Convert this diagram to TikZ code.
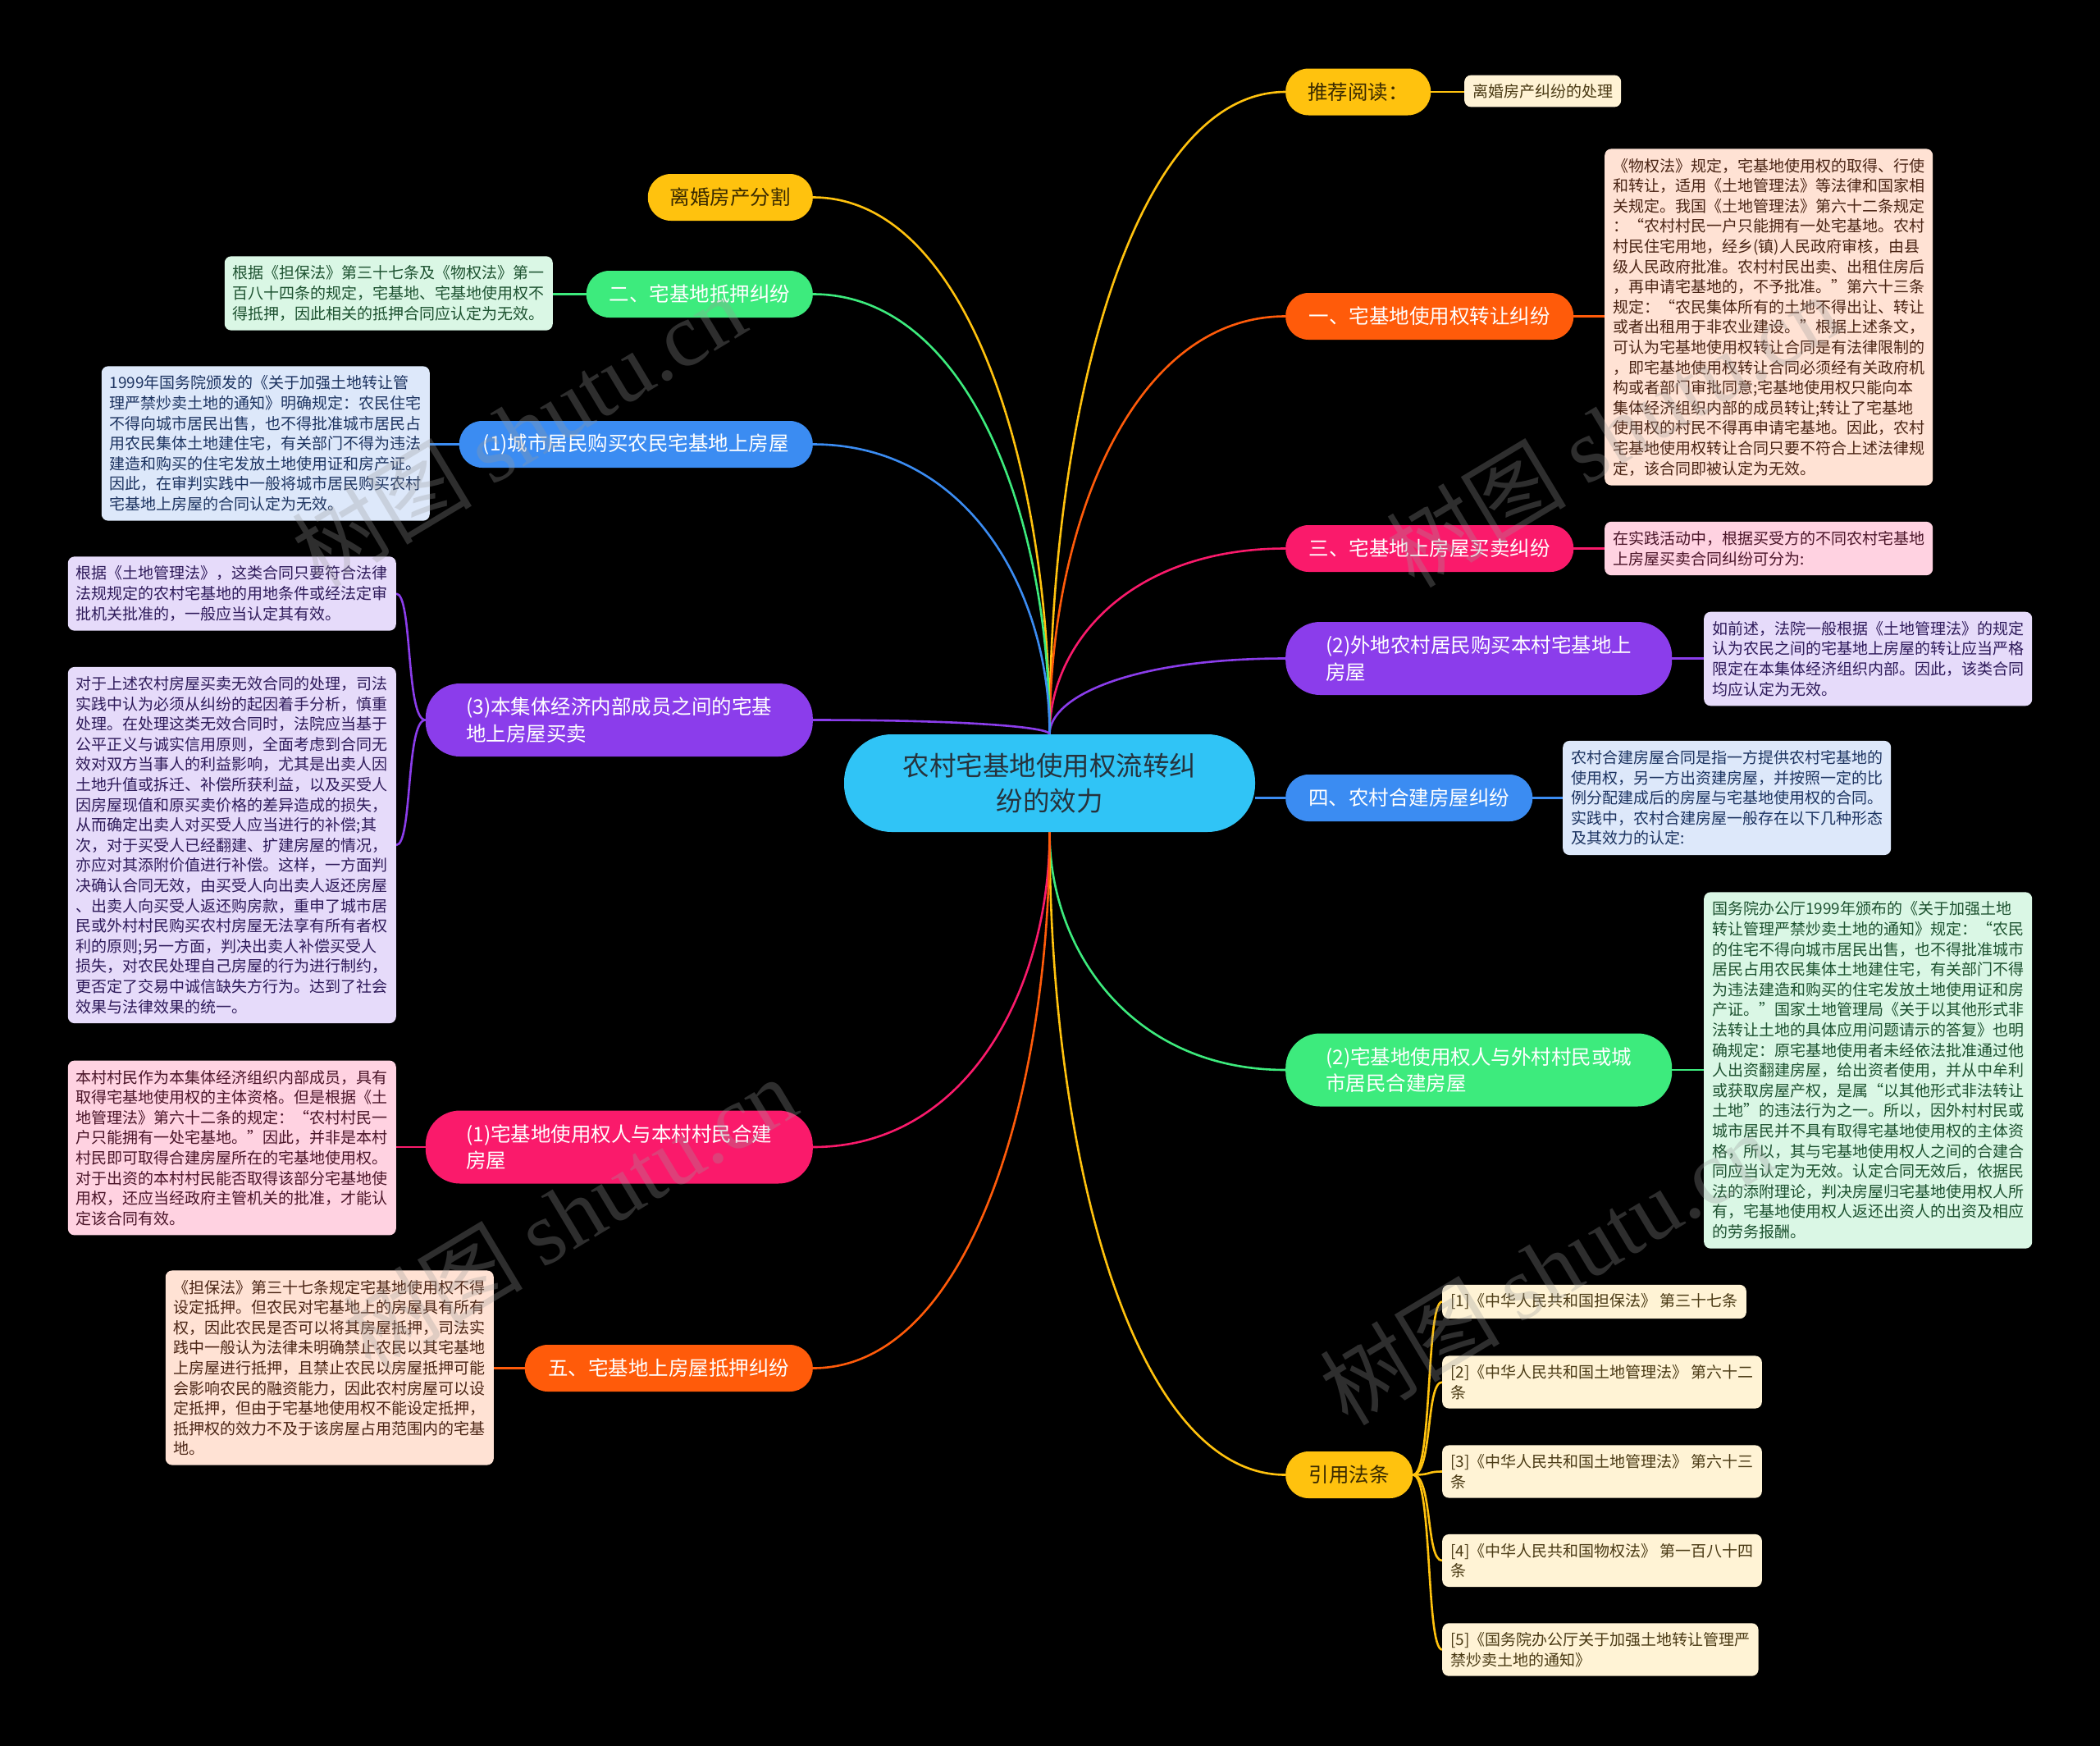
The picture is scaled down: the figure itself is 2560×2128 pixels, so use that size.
\documentclass[tikz,border=0pt]{standalone}
\usepackage{fontspec}
\setmainfont{Noto Sans CJK SC}
\newfontfamily\wmlatin{Liberation Serif}
\usetikzlibrary{calc}
\pgfdeclarelayer{bg}
\pgfdeclarelayer{conns}
\pgfsetlayers{bg,conns,main}

\definecolor{cgold}{HTML}{FFC20E}
\definecolor{corange}{HTML}{FF5B0A}
\definecolor{ccrimson}{HTML}{FA1A6B}
\definecolor{cpurple}{HTML}{8B3DEB}
\definecolor{cblue}{HTML}{3B8CF2}
\definecolor{cgreen}{HTML}{3DEB7D}
\definecolor{chub}{HTML}{30C4F6}
\definecolor{lcream}{HTML}{FFF3D5}
\definecolor{lpeach}{HTML}{FFE2D4}
\definecolor{lpink}{HTML}{FFD2E1}
\definecolor{llav}{HTML}{E6DBFA}
\definecolor{lblue}{HTML}{DDE8FA}
\definecolor{lgreen}{HTML}{DAF7E5}
\definecolor{goldtext}{HTML}{3A2A00}
\definecolor{hubtext}{HTML}{26323C}
\definecolor{tcream}{HTML}{4A3A14}
\definecolor{tpeach}{HTML}{4A2414}
\definecolor{tpink}{HTML}{4A1428}
\definecolor{tlav}{HTML}{2E1A5A}
\definecolor{tblue}{HTML}{1C3360}
\definecolor{tgreen}{HTML}{1D5230}
\definecolor{wmgray}{HTML}{9A9A9A}

\tikzset{
  conn/.style={line width=2.6pt},
  hub/.style={fill=chub, text=hubtext, rounded corners=58pt, minimum width=501pt, minimum height=119pt,
    inner sep=0pt, align=center, font=\fontsize{32.5}{42.5}\selectfont},
  pillone/.style={rounded corners=28pt, minimum height=57pt, inner sep=0pt, text=white, align=center,
    font=\fontsize{24.5}{32.7}\selectfont},
  pilltwo/.style={rounded corners=42pt, minimum height=89pt, inner sep=0pt, text=white, align=left,
    font=\fontsize{24.5}{32.7}\selectfont},
  leafbox/.style={rounded corners=8pt, inner xsep=10pt, inner ysep=11.5pt, align=left,
    font=\fontsize{19}{24.6}\selectfont},
  wm/.style={rotate=31, text=wmgray, text opacity=0.3, inner sep=0pt, font=\fontsize{110}{110}\selectfont},
}

\newcommand\mmup[2]{\draw[conn,#1] (c.north) .. controls ($(c.north)!0.5!(c.north|-#2)$) and ($(c.north|-#2)!0.35!(#2)$) .. (#2);}
\newcommand\mmdown[2]{\draw[conn,#1] (c.south) .. controls ($(c.south)!0.5!(c.south|-#2)$) and ($(c.south|-#2)!0.35!(#2)$) .. (#2);}

\begin{document}
\begin{tikzpicture}[x=1pt,y=-1pt]
\begin{pgfonlayer}{bg}
\fill[black] (0,0) rectangle (2560,2128);
\end{pgfonlayer}
\useasboundingbox (0,0) rectangle (2560,2128);

% hub
\node[hub] (c) at (1279.5,954.5) {农村宅基地使用权流转纠\\纷的效力};

% ---------------- right side ----------------
\node[pillone, fill=cgold, text=goldtext, minimum width=177pt, anchor=west] (p1) at (1567,112) {推荐阅读：};
\node[leafbox, fill=lcream, text=tcream, inner ysep=10.5pt, anchor=west] (l1) at (1785,111) {离婚房产纠纷的处理};

\node[pillone, fill=corange, minimum width=351pt, anchor=west] (p2) at (1567,385.5) {一、宅基地使用权转让纠纷};
\node[leafbox, fill=lpeach, text=tpeach, anchor=west] (l2) at (1956,386.5) {《物权法》规定，宅基地使用权的取得、行使\\和转让，适用《土地管理法》等法律和国家相\\关规定。我国《土地管理法》第六十二条规定\\：“农村村民一户只能拥有一处宅基地。农村\\村民住宅用地，经乡(镇)人民政府审核，由县\\级人民政府批准。农村村民出卖、出租住房后\\，再申请宅基地的，不予批准。”第六十三条\\规定：“农民集体所有的土地不得出让、转让\\或者出租用于非农业建设。”根据上述条文，\\可认为宅基地使用权转让合同是有法律限制的\\，即宅基地使用权转让合同必须经有关政府机\\构或者部门审批同意;宅基地使用权只能向本\\集体经济组织内部的成员转让;转让了宅基地\\使用权的村民不得再申请宅基地。因此，农村\\宅基地使用权转让合同只要不符合上述法律规\\定，该合同即被认定为无效。};

\node[pillone, fill=ccrimson, minimum width=351pt, anchor=west] (p3) at (1567,668.5) {三、宅基地上房屋买卖纠纷};
\node[leafbox, fill=lpink, text=tpink, anchor=west] (l3) at (1956,668.5) {在实践活动中，根据买受方的不同农村宅基地\\上房屋买卖合同纠纷可分为:};

\node[pilltwo, fill=cpurple, minimum width=471pt, anchor=west] (p4) at (1567,802.5) {(2)外地农村居民购买本村宅基地上\\房屋};
\node[leafbox, fill=llav, text=tlav, anchor=west] (l4) at (2077,803) {如前述，法院一般根据《土地管理法》的规定\\认为农民之间的宅基地上房屋的转让应当严格\\限定在本集体经济组织内部。因此，该类合同\\均应认定为无效。};

\node[pillone, fill=cblue, minimum width=301pt, anchor=west] (p5) at (1567,972.5) {四、农村合建房屋纠纷};
\node[leafbox, fill=lblue, text=tblue, anchor=west] (l5) at (1905,972.5) {农村合建房屋合同是指一方提供农村宅基地的\\使用权，另一方出资建房屋，并按照一定的比\\例分配建成后的房屋与宅基地使用权的合同。\\实践中，农村合建房屋一般存在以下几种形态\\及其效力的认定:};

\node[pilltwo, fill=cgreen, minimum width=471pt, anchor=west] (p6) at (1567,1304) {(2)宅基地使用权人与外村村民或城\\市居民合建房屋};
\node[leafbox, fill=lgreen, text=tgreen, anchor=west] (l6) at (2077,1304.5) {国务院办公厅1999年颁布的《关于加强土地\\转让管理严禁炒卖土地的通知》规定：“农民\\的住宅不得向城市居民出售，也不得批准城市\\居民占用农民集体土地建住宅，有关部门不得\\为违法建造和购买的住宅发放土地使用证和房\\产证。”国家土地管理局《关于以其他形式非\\法转让土地的具体应用问题请示的答复》也明\\确规定：原宅基地使用者未经依法批准通过他\\人出资翻建房屋，给出资者使用，并从中牟利\\或获取房屋产权，是属“以其他形式非法转让\\土地”的违法行为之一。所以，因外村村民或\\城市居民并不具有取得宅基地使用权的主体资\\格，所以，其与宅基地使用权人之间的合建合\\同应当认定为无效。认定合同无效后，依据民\\法的添附理论，判决房屋归宅基地使用权人所\\有，宅基地使用权人返还出资人的出资及相应\\的劳务报酬。};

\node[pillone, fill=cgold, text=goldtext, minimum width=155pt, anchor=west] (p7) at (1567,1797.5) {引用法条};
\node[leafbox, fill=lcream, text=tcream, inner ysep=11pt, anchor=west] (r1) at (1758,1586.5) {[1]《中华人民共和国担保法》 第三十七条};
\node[leafbox, fill=lcream, text=tcream, inner ysep=11pt, anchor=west] (r2) at (1758,1684.5) {[2]《中华人民共和国土地管理法》 第六十二\\条};
\node[leafbox, fill=lcream, text=tcream, inner ysep=11pt, anchor=west] (r3) at (1758,1793.5) {[3]《中华人民共和国土地管理法》 第六十三\\条};
\node[leafbox, fill=lcream, text=tcream, inner ysep=11pt, anchor=west] (r4) at (1758,1902) {[4]《中华人民共和国物权法》 第一百八十四\\条};
\node[leafbox, fill=lcream, text=tcream, inner ysep=11pt, anchor=west] (r5) at (1758,2010.5) {[5]《国务院办公厅关于加强土地转让管理严\\禁炒卖土地的通知》};

% ---------------- left side ----------------
\node[pillone, fill=cgold, text=goldtext, minimum width=201pt, anchor=east] (q1) at (991,240.5) {离婚房产分割};

\node[pillone, fill=cgreen, minimum width=276pt, anchor=east] (q2) at (991,358.5) {二、宅基地抵押纠纷};
\node[leafbox, fill=lgreen, text=tgreen, anchor=east] (m2) at (674,357.5) {根据《担保法》第三十七条及《物权法》第一\\百八十四条的规定，宅基地、宅基地使用权不\\得抵押，因此相关的抵押合同应认定为无效。};

\node[pillone, fill=cblue, minimum width=431pt, anchor=east] (q3) at (991,541.5) {(1)城市居民购买农民宅基地上房屋};
\node[leafbox, fill=lblue, text=tblue, anchor=east] (m3) at (524,540.5) {1999年国务院颁发的《关于加强土地转让管\\理严禁炒卖土地的通知》明确规定：农民住宅\\不得向城市居民出售，也不得批准城市居民占\\用农民集体土地建住宅，有关部门不得为违法\\建造和购买的住宅发放土地使用证和房产证。\\因此，在审判实践中一般将城市居民购买农村\\宅基地上房屋的合同认定为无效。};

\node[pilltwo, fill=cpurple, minimum width=472pt, anchor=east] (q4) at (991,877.5) {(3)本集体经济内部成员之间的宅基\\地上房屋买卖};
\node[leafbox, fill=llav, text=tlav, anchor=east] (m4a) at (483,723.5) {根据《土地管理法》，这类合同只要符合法律\\法规规定的农村宅基地的用地条件或经法定审\\批机关批准的，一般应当认定其有效。};
\node[leafbox, fill=llav, text=tlav, anchor=east] (m4b) at (483,1030) {对于上述农村房屋买卖无效合同的处理，司法\\实践中认为必须从纠纷的起因着手分析，慎重\\处理。在处理这类无效合同时，法院应当基于\\公平正义与诚实信用原则，全面考虑到合同无\\效对双方当事人的利益影响，尤其是出卖人因\\土地升值或拆迁、补偿所获利益，以及买受人\\因房屋现值和原买卖价格的差异造成的损失，\\从而确定出卖人对买受人应当进行的补偿;其\\次，对于买受人已经翻建、扩建房屋的情况，\\亦应对其添附价值进行补偿。这样，一方面判\\决确认合同无效，由买受人向出卖人返还房屋\\、出卖人向买受人返还购房款，重申了城市居\\民或外村村民购买农村房屋无法享有所有者权\\利的原则;另一方面，判决出卖人补偿买受人\\损失，对农民处理自己房屋的行为进行制约，\\更否定了交易中诚信缺失方行为。达到了社会\\效果与法律效果的统一。};

\node[pilltwo, fill=ccrimson, minimum width=472pt, anchor=east] (q5) at (991,1398) {(1)宅基地使用权人与本村村民合建\\房屋};
\node[leafbox, fill=lpink, text=tpink, anchor=east] (m5) at (483,1399) {本村村民作为本集体经济组织内部成员，具有\\取得宅基地使用权的主体资格。但是根据《土\\地管理法》第六十二条的规定：“农村村民一\\户只能拥有一处宅基地。”因此，并非是本村\\村民即可取得合建房屋所在的宅基地使用权。\\对于出资的本村村民能否取得该部分宅基地使\\用权，还应当经政府主管机关的批准，才能认\\定该合同有效。};

\node[pillone, fill=corange, minimum width=351pt, anchor=east] (q6) at (991,1667.5) {五、宅基地上房屋抵押纠纷};
\node[leafbox, fill=lpeach, text=tpeach, anchor=east] (m6) at (602,1667) {《担保法》第三十七条规定宅基地使用权不得\\设定抵押。但农民对宅基地上的房屋具有所有\\权，因此农民是否可以将其房屋抵押，司法实\\践中一般认为法律未明确禁止农民以其宅基地\\上房屋进行抵押，且禁止农民以房屋抵押可能\\会影响农民的融资能力，因此农村房屋可以设\\定抵押，但由于宅基地使用权不能设定抵押，\\抵押权的效力不及于该房屋占用范围内的宅基\\地。};

% ---------------- connectors ----------------
\begin{pgfonlayer}{conns}
\mmup{cgold}{p1.west}
\mmup{corange}{p2.west}
\mmup{ccrimson}{p3.west}
\mmup{cpurple}{p4.west}
\draw[conn,cblue] (c.east|-p5.west) -- (p5.west);
\mmdown{cgreen}{p6.west}
\mmdown{cgold}{p7.west}
\mmup{cgold}{q1.east}
\mmup{cgreen}{q2.east}
\mmup{cblue}{q3.east}
\mmup{cpurple}{q4.east}
\mmdown{ccrimson}{q5.east}
\mmdown{corange}{q6.east}

\draw[conn,cgold] (p1.east) -- (p1.east-|l1.west);
\draw[conn,corange] (p2.east) -- (p2.east-|l2.west);
\draw[conn,ccrimson] (p3.east) -- (p3.east-|l3.west);
\draw[conn,cpurple] (p4.east) -- (p4.east-|l4.west);
\draw[conn,cblue] (p5.east) -- (p5.east-|l5.west);
\draw[conn,cgreen] (p6.east) -- (p6.east-|l6.west);
\foreach \r in {r1,r2,r3,r4,r5}
  \draw[conn,cgold] (p7.east) .. controls ($(p7.east)+(24,0)$) and ($(\r.west)+(-20,0)$) .. (\r.west);
\draw[conn,cgreen] (q2.west) -- (q2.west-|m2.east);
\draw[conn,cblue] (q3.west) -- (q3.west-|m3.east);
\draw[conn,cpurple] (q4.west) .. controls ($(q4.west)+(-24,0)$) and ($(m4a.east)+(20,0)$) .. (m4a.east);
\draw[conn,cpurple] (q4.west) .. controls ($(q4.west)+(-24,0)$) and ($(m4b.east)+(20,0)$) .. (m4b.east);
\draw[conn,ccrimson] (q5.west) -- (q5.west-|m5.east);
\draw[conn,corange] (q6.west) -- (q6.west-|m6.east);
\end{pgfonlayer}

% ---------------- watermarks ----------------
\node[wm] (w1) at (632,524) {树图 {\wmlatin shutu.cn}};
\node[wm] (w2) at (1966,524) {树图 {\wmlatin shutu.cn}};
\node[wm] (w3) at (694,1478) {树图 {\wmlatin shutu.cn}};
\node[wm] (w4) at (1885,1545) {树图 {\wmlatin shutu.cn}};
\end{tikzpicture}
\end{document}
